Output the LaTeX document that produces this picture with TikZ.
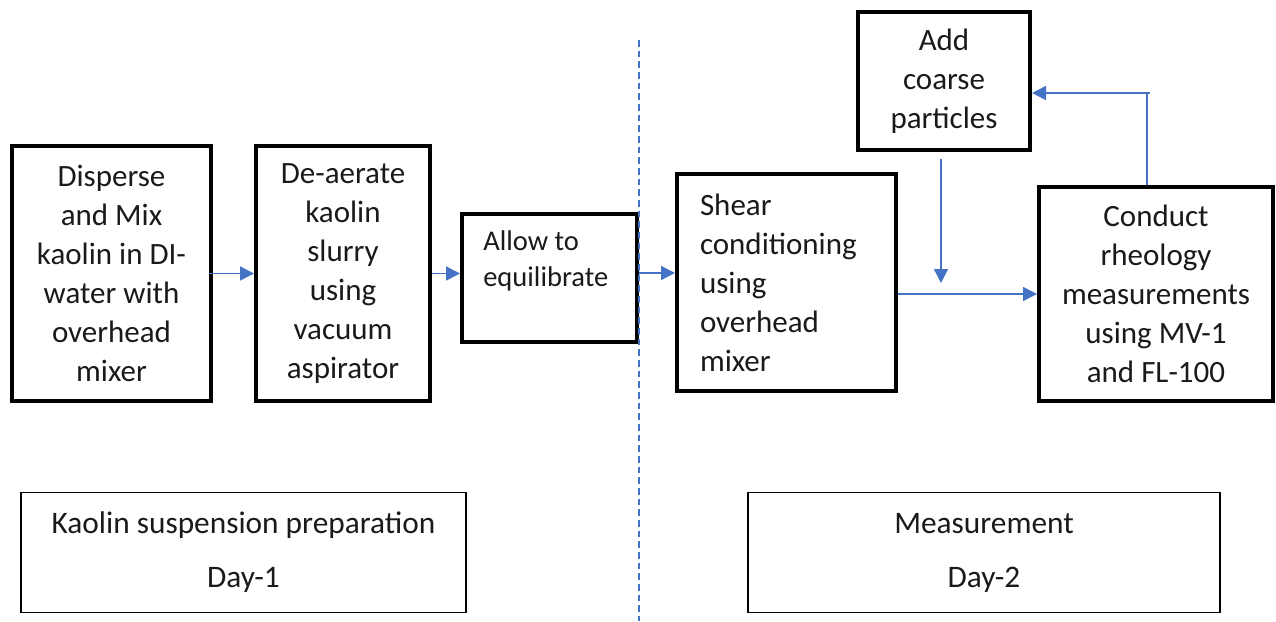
\documentclass[tikz,border=0pt]{standalone}
\usepackage{fontspec}
\setmainfont{Carlito}
\usetikzlibrary{arrows.meta}
\definecolor{arrblue}{HTML}{4472C4}
\definecolor{txt}{HTML}{1A1A1A}
\begin{document}
\begin{tikzpicture}[x=0.75pt,y=-0.75pt,
  box/.style={draw=black,line width=3pt,align=center,inner sep=0pt,text=txt,
    font=\fontsize{23.25}{29.25}\selectfont},
  bbox/.style={draw=black,line width=1.1pt,align=center,inner sep=0pt,text=txt,
    font=\fontsize{23.5}{29.5}\selectfont},
  arr/.style={draw=arrblue,line width=1.1pt,-{Triangle[length=10.5pt,width=10.5pt]}},
  fline/.style={draw=arrblue,line width=1.1pt},
  divider/.style={draw=arrblue,line width=0.8pt,dash pattern=on 5pt off 3pt}]
\useasboundingbox (0,0) rectangle (1276,621);

% process boxes
\node[box,minimum width=149.25pt,minimum height=191.25pt] (a1) at (111.5,273.5)
  {Disperse\\and Mix\\kaolin in DI-\\water with\\overhead\\mixer};
\node[box,minimum width=130.5pt,minimum height=191.25pt] (a2) at (343,273.5)
  {De-aerate\\kaolin\\slurry\\using\\vacuum\\aspirator};
\node[box,minimum width=131.25pt,minimum height=96pt] (a3) at (549.5,278) {};
\node[align=left,anchor=west,inner sep=0pt,text=txt,font=\fontsize{21.4}{27}\selectfont] (t3) at (483,261)
  {Allow to\\equilibrate};
\node[box,align=left,text width=129.75pt,inner xsep=17.25pt,minimum height=162.75pt] (a4) at (786.5,282.5)
  {Shear\\conditioning\\using\\overhead\\mixer};
\node[box,minimum width=129pt,minimum height=103.5pt] (a5) at (944,81)
  {Add\\coarse\\particles};
\node[box,minimum width=175.5pt,minimum height=160.5pt] (a6) at (1156,294)
  {Conduct\\rheology\\measurements\\using MV-1\\and FL-100};

% day boxes
\node[bbox,minimum width=333.75pt,minimum height=90pt] (d1) at (243.5,552.5)
  {Kaolin suspension preparation\\[11pt]Day-1};
\node[bbox,minimum width=354pt,minimum height=90pt] (d2) at (984,552.5)
  {Measurement\\[11pt]Day-2};

% divider
\coordinate (v1) at (639,40);
\coordinate (v2) at (639,621);
\draw[divider] (v1) -- (v2);

% connectors
\draw[arr] ([xshift=-3]a1.east) -- (a1.east -| a2.west);
\draw[arr] (a2.east) -- (a2.east -| a3.west);
\coordinate (m3) at (639,273);
\draw[arr] (m3) -- (m3 -| a4.west);
\draw[arr] (a4.east |- a6.west) -- (a6.west);
\coordinate (c1) at (941,283);
\draw[arr] ([yshift=-5]a5.south -| c1) -- (c1);
\coordinate (fb) at (1147,93);
\draw[arr] (a6.north -| fb) -- (fb) -- (fb -| a5.east);
\draw[fline] (fb) -- ++(3,0);
\end{tikzpicture}
\end{document}
